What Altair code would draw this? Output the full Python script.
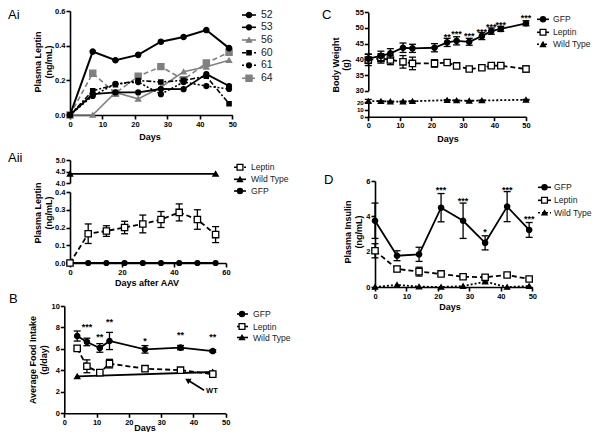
import altair as alt
import pandas as pd

W, H = 585, 424
FONT = "Liberation Sans"
GRAY = "#808080"

# ---------------- data ----------------
# Ai: individual mice, plasma leptin (ng/mL)
ai_days = [0, 7, 14, 21, 28, 35, 42, 49]
ai_52 = [0, 0.366, 0.316, 0.347, 0.423, 0.450, 0.490, 0.386]
ai_53 = [0, 0.120, 0.130, 0.130, 0.150, 0.149, 0.236, 0.167]
ai_56 = [0, 0.000, 0.130, 0.093, 0.160, 0.250, 0.278, 0.316]
ai_60 = [0, 0.140, 0.175, 0.199, 0.190, 0.200, 0.223, 0.065]
ai_61 = [0, 0.110, 0.180, 0.190, 0.120, 0.190, 0.167, 0.150]
ai_64 = [0, 0.241, 0.126, 0.223, 0.279, 0.204, 0.300, 0.362]

# Aii: plasma leptin after AAV
aii_days = [0, 7, 14, 21, 28, 35, 42, 49, 56]
aii_leptin = [0, 0.165, 0.180, 0.200, 0.220, 0.245, 0.285, 0.245, 0.160]
aii_leptin_err = [0, 0.055, 0.030, 0.035, 0.050, 0.045, 0.048, 0.055, 0.045]
aii_gfp = [0, 0, 0, 0, 0, 0, 0, 0, 0]
aii_wt_days = [0, 56]
aii_wt = [4.4, 4.4]

# B: average food intake (g/day)
b_days = [4, 7, 11, 14, 25, 36, 46]
b_gfp = [7.20, 6.65, 6.09, 6.74, 5.96, 6.12, 5.80]
b_gfp_err = [0.47, 0.35, 0.40, 0.80, 0.35, 0.20, 0.10]
b_leptin = [6.05, 4.38, 3.79, 4.63, 4.16, 4.02, 3.65]
b_leptin_err = [0.25, 0.60, 0.10, 0.40, 0.25, 0.10, 0.10]
b_wt_days = [4, 46]
b_wt = [3.45, 3.85]
b_star_days = [7, 11, 14, 25, 36, 46]
b_star_y = [8.36, 7.43, 8.76, 7.02, 7.58, 7.43]
b_stars = ["***", "**", "**", "*", "**", "**"]

# C: body weight (g)
c_days = [0, 4, 7, 11, 14, 21, 25, 28, 32, 36, 39, 42, 50]
c_gfp = [40.2, 41.1, 41.9, 43.7, 43.5, 43.7, 45.4, 45.9, 45.6, 47.4, 49.0, 49.7, 51.5]
c_gfp_err = [1.5, 1.5, 1.5, 1.5, 1.3, 1.3, 1.3, 1.3, 1.1, 1.1, 1.0, 0.8, 0.8]
c_leptin = [39.8, 40.3, 39.8, 39.2, 38.7, 38.7, 39.0, 37.9, 36.9, 37.3, 38.0, 38.0, 36.9]
c_leptin_err = [1.8, 1.5, 1.5, 2.0, 2.0, 1.2, 0.5, 0.7, 0.5, 0.5, 0.5, 0.5, 1.0]
c_wt_days = [0, 4, 7, 11, 14, 25, 28, 32, 36, 50]
c_wt = [21.5, 21.5, 21.0, 21.0, 21.5, 23.0, 22.5, 22.0, 22.5, 23.5]
c_wt_err = [2.5, 0.5, 0.5, 0.5, 0.5, 0.5, 0.5, 0.5, 0.5, 0.5]
c_star_days = [25, 28, 32, 36, 39, 42, 50]
c_star_y = [48.0, 49.0, 48.5, 49.8, 51.4, 52.0, 54.1]
c_stars = ["**", "***", "***", "***", "***", "***", "***"]

# D: plasma insulin (ng/mL)
d_days = [0, 7, 14, 21, 28, 35, 42, 49]
d_gfp = [3.75, 1.77, 1.85, 4.49, 3.75, 2.50, 4.55, 3.23]
d_gfp_err = [1.00, 0.28, 0.40, 0.80, 1.00, 0.40, 0.85, 0.42]
d_leptin = [2.05, 1.02, 0.87, 0.74, 0.58, 0.55, 0.68, 0.45]
d_leptin_err = [0.40, 0.15, 0.25, 0.08, 0.05, 0.05, 0.08, 0.08]
d_wt = [0.00, 0.12, 0.02, 0.00, 0.05, 0.30, 0.00, 0.05]
d_star_days = [21, 28, 35, 42, 49]
d_star_y = [5.64, 5.06, 3.27, 5.64, 4.04]
d_stars = ["***", "***", "*", "***", "***"]

# ---------------- helpers ----------------
ONE = pd.DataFrame({"k": [0]})

AX = dict(grid=False, title=None, domainColor="black", domainWidth=1.6,
          tickColor="black", tickWidth=1.6, tickSize=4, labelFont=FONT,
          labelFontWeight="bold", labelColor="black",
          labelPadding=1, labelOverlap=False, labelFlush=False)


def bottom_axis(y_px, values, fmt="d", lsize=7.5):
    return alt.Axis(orient="bottom", offset=y_px - H, values=values, format=fmt,
                    labelFontSize=lsize, **AX)


def left_axis(x_px, values, fmt="d", lsize=7.5):
    return alt.Axis(orient="left", offset=-x_px, values=values, format=fmt,
                    labelFontSize=lsize, **AX)


class Panel:
    def __init__(self, xdom, xrng, ydom, yrng, xaxis, yaxis):
        self.xs = alt.Scale(domain=xdom, range=xrng, nice=False, zero=False)
        self.ys = alt.Scale(domain=ydom, range=yrng, nice=False, zero=False)
        self.xaxis = xaxis
        self.yaxis = yaxis
        self.layers = []

    def X(self, f="x"):
        return alt.X(f"{f}:Q", scale=self.xs, axis=self.xaxis)

    def Y(self, f="y"):
        return alt.Y(f"{f}:Q", scale=self.ys, axis=self.yaxis)

    def series(self, xs, ys, err=None, dash=None, shape="circle", fill="black",
               color="black", stroke=None, size=28, width=1.8, cap=7):
        d = pd.DataFrame({"x": xs, "y": ys})
        if err is not None:
            d["lo"] = [a - e for a, e in zip(ys, err)]
            d["hi"] = [a + e for a, e in zip(ys, err)]
        base = alt.Chart(d)
        lk = dict(color=color, strokeWidth=width)
        if dash:
            lk["strokeDash"] = dash
        self.layers.append(base.mark_line(**lk).encode(x=self.X(), y=self.Y()))
        if err is not None:
            self.layers.append(base.mark_rule(color=color, strokeWidth=1.3).encode(
                x=self.X(), y=self.Y("lo"), y2=alt.Y2("hi")))
            for f in ("lo", "hi"):
                self.layers.append(base.mark_tick(orient="horizontal", color=color, size=cap,
                                                  thickness=1.3, opacity=1).encode(
                    x=self.X(), y=self.Y(f)))
        self.layers.append(base.mark_point(shape=shape, filled=True, fill=fill,
                                           stroke=stroke or color, size=size, opacity=1,
                                           strokeWidth=1.3).encode(x=self.X(), y=self.Y()))

    def stars(self, xs, ys, labels):
        d = pd.DataFrame({"x": xs, "y": ys, "s": labels})
        self.layers.append(alt.Chart(d).mark_text(font=FONT, fontSize=9, fontWeight="bold",
                                                  baseline="middle", dy=3, color="black").encode(
            x=self.X(), y=self.Y(), text="s:N"))

    def chart(self):
        return alt.layer(*self.layers)


def label(text, x, y, size=9, weight="bold", angle=0, align="center", baseline="middle"):
    return alt.Chart(ONE).mark_text(text=text, font=FONT, fontSize=size, fontWeight=weight,
                                    angle=angle, align=align, baseline=baseline,
                                    color="black").encode(x=alt.value(x), y=alt.value(y))


def legend(entries, lx0, lx1, mx, tx, ys, fsize=8.6):
    out = []
    for (txt, dash, shape, fill, color, size), y in zip(entries, ys):
        rk = dict(color=color, strokeWidth=1.6)
        if dash:
            rk["strokeDash"] = dash
        out.append(alt.Chart(ONE).mark_rule(**rk).encode(
            x=alt.value(lx0), x2=alt.value(lx1), y=alt.value(y)))
        out.append(alt.Chart(ONE).mark_point(shape=shape, filled=True, fill=fill, stroke=color,
                                             size=size, opacity=1, strokeWidth=1.3).encode(
            x=alt.value(mx), y=alt.value(y)))
        out.append(alt.Chart(ONE).mark_text(text=txt, font=FONT, fontSize=fsize, align="left",
                                            baseline="middle", color="#222").encode(
            x=alt.value(tx), y=alt.value(y)))
    return out


X50 = [0, 10, 20, 30, 40, 50]

# ---------------- panels ----------------
pAi = Panel([0, 50], [62, 224.3], [0, 0.6], [107, 3],
            bottom_axis(107, X50), left_axis(62, [0, 0.2, 0.4, 0.6], ".1f"))
pAi.series(ai_days, ai_64, dash=[5, 3], shape="square", fill=GRAY, color=GRAY, size=38, width=1.6)
pAi.series(ai_days, ai_56, shape="triangle-up", fill=GRAY, color=GRAY, size=26, width=1.6)
pAi.series(ai_days, ai_61, dash=[2, 2], shape="circle", size=24, width=1.6)
pAi.series(ai_days, ai_60, dash=[5, 2, 2, 2], shape="square", size=18, width=1.6)
pAi.series(ai_days, ai_53, shape="circle", size=24, width=1.8)
pAi.series(ai_days, ai_52, shape="circle", size=28, width=2)

pAii_up = Panel([0, 60], [62, 218], [4, 5], [175, 152],
                None, left_axis(62, [4.0, 4.5, 5.0], ".1f", lsize=7))
pAii_up.series(aii_wt_days, aii_wt, shape="triangle-up", size=28)

pAii = Panel([0, 60], [62, 218], [0, 0.4], [255, 184],
             bottom_axis(255, [0, 20, 40, 60]), left_axis(62, [0, 0.1, 0.2, 0.3, 0.4], ".1f"))
pAii.series(aii_days, aii_gfp, shape="circle", size=24)
pAii.series(aii_days, aii_leptin, err=aii_leptin_err, dash=[5, 3], shape="square",
            fill="white", size=40)

pB = Panel([0, 50], [56.3, 217.7], [0, 10], [405.3, 298],
           bottom_axis(405.3, X50), left_axis(56.3, [0, 2, 4, 6, 8, 10]))
pB.series(b_wt_days, b_wt, shape="triangle-up", size=28)
pB.series(b_days, b_leptin, err=b_leptin_err, dash=[5, 3], shape="square", fill="white", size=40)
pB.series(b_days, b_gfp, err=b_gfp_err, shape="circle", size=28)
pB.stars(b_star_days, b_star_y, b_stars)
arrow = pd.DataFrame({"x": [43.3], "y": [2.15], "x2": [38.2], "y2": [3.1]})
pB.layers.append(alt.Chart(arrow).mark_rule(color="black", strokeWidth=1.6).encode(
    x=pB.X(), y=pB.Y(), x2=alt.X2("x2"), y2=alt.Y2("y2")))
pB.layers.append(alt.Chart(arrow).mark_point(shape="triangle-up", filled=True, color="black",
                                             size=40, angle=301, opacity=1).encode(
    x=pB.X("x2"), y=pB.Y("y2")))
pB.layers.append(alt.Chart(arrow).mark_text(text="WT", font=FONT, fontSize=7.5, fontWeight="bold",
                                            align="left", baseline="middle", dx=2, dy=1).encode(
    x=pB.X(), y=pB.Y()))

pC = Panel([0, 50], [360.3, 518], [30, 55], [82.7, 4.3],
           None, left_axis(360.3, [30, 35, 40, 45, 50, 55]))
pC.series(c_days, c_leptin, err=c_leptin_err, dash=[5, 3], shape="square", fill="white", size=40)
pC.series(c_days, c_gfp, err=c_gfp_err, shape="circle", size=28)
pC.stars(c_star_days, c_star_y, c_stars)

pC_low = Panel([0, 50], [360.3, 518], [0, 25], [108.7, 90.7],
               bottom_axis(108.7, X50), left_axis(360.3, [0, 10, 20], lsize=6.2))
pC_low.series(c_wt_days, c_wt, err=c_wt_err, dash=[2, 2], shape="triangle-up", size=26)

pD = Panel([0, 50], [367, 524.3], [0, 6], [279, 173],
           bottom_axis(279, X50), left_axis(367, [0, 2, 4, 6]))
pD.series(d_days, d_wt, dash=[2, 2], shape="triangle-up", size=26)
pD.series(d_days, d_leptin, err=d_leptin_err, dash=[5, 3], shape="square", fill="white", size=40)
pD.series(d_days, d_gfp, err=d_gfp_err, shape="circle", size=28)
pD.stars(d_star_days, d_star_y, d_stars)

# ---------------- annotations ----------------
ann = [
    label("Ai", 0, 1, size=13, weight="normal", align="left", baseline="top"),
    label("Aii", 0, 149.5, size=13, weight="normal", align="left"),
    label("B", 1, 291, size=13, weight="normal", align="left"),
    label("C", 314, 1, size=13, weight="normal", align="left", baseline="top"),
    label("D", 316, 172, size=13, weight="normal", align="left"),
    # axis titles
    label("Plasma Leptin", 30, 54, angle=270),
    label("(ng/mL)", 41, 54, angle=270),
    label("Days", 142, 129),
    label("Plasma Leptin", 30, 205, angle=270),
    label("(ng/mL)", 41, 205, angle=270),
    label("Days after AAV", 139, 275),
    label("Average Food Intake", 25, 352, angle=270),
    label("(g/day)", 36, 352, angle=270),
    label("Days", 137, 420),
    label("Body Weight", 328, 57, angle=270),
    label("(g)", 338, 57, angle=270),
    label("Days", 440, 131),
    label("Plasma Insulin", 340, 224, angle=270),
    label("(ng/mL)", 351, 224, angle=270),
    label("Days", 442, 299),
]

ann += legend([("52", None, "circle", "black", "black", 28),
               ("53", None, "circle", "black", "black", 24),
               ("56", None, "triangle-up", GRAY, GRAY, 26),
               ("60", [4, 2], "square", "black", "black", 18),
               ("61", [2, 2], "circle", "black", "black", 24),
               ("64", [5, 3], "square", GRAY, GRAY, 38)],
              234, 248, 241, 253, [7, 19.3, 32, 44.7, 57.3, 70.3], fsize=10.5)
ann += legend([("Leptin", [3, 2], "square", "white", "black", 34),
               ("Wild Type", None, "triangle-up", "black", "black", 26),
               ("GFP", None, "circle", "black", "black", 26)],
              226, 238, 232, 243, [159.3, 171.3, 183])
ann += legend([("GFP", None, "circle", "black", "black", 26),
               ("Leptin", None, "square", "white", "black", 34),
               ("Wild Type", None, "triangle-up", "black", "black", 26)],
              229, 240, 234, 245, [306, 318.5, 329.5])
ann += legend([("GFP", None, "circle", "black", "black", 26),
               ("Leptin", None, "square", "white", "black", 34),
               ("Wild Type", [2, 2], "triangle-up", "black", "black", 26)],
              529, 541, 535, 545, [11.3, 24.3, 36.3])
ann += legend([("GFP", None, "circle", "black", "black", 26),
               ("Leptin", None, "square", "white", "black", 34),
               ("Wild Type", [2, 2], "triangle-up", "black", "black", 26)],
              530, 543, 536.5, 546, [179.3, 192.3, 204.7])

panels = [p.chart() for p in (pAi, pAii_up, pAii, pB, pC, pC_low, pD)]

chart = alt.layer(*panels, *ann).resolve_scale(
    x="independent", y="independent").resolve_axis(
    x="independent", y="independent").properties(
    width=W, height=H, padding=0, autosize="none",
    background="white").configure_view(stroke=None)

chart.save("out.html", embed_options={"renderer": "svg", "actions": False})
